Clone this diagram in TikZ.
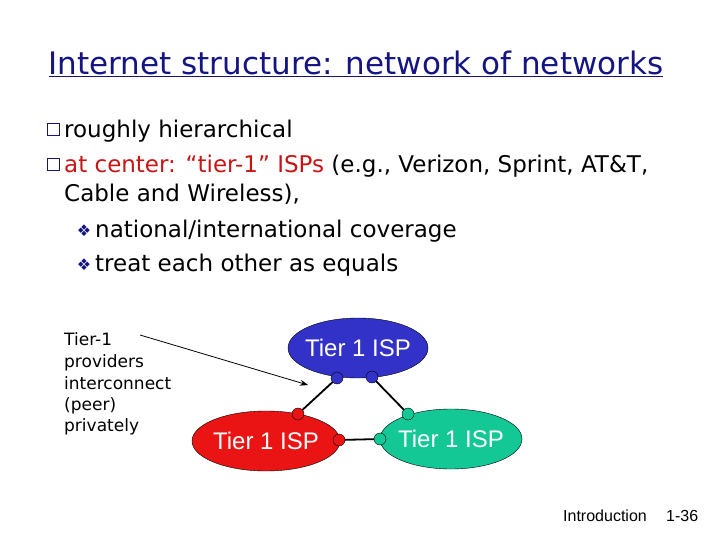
\documentclass[tikz,border=0pt]{standalone}
\usepackage{fontspec}
\setmainfont{DejaVu Sans}
\newfontfamily\uifont{Liberation Sans}
\usetikzlibrary{shapes.geometric,arrows.meta}
\definecolor{navy}{RGB}{20,20,130}
\definecolor{bred}{RGB}{200,20,20}
\definecolor{ispblue}{RGB}{50,50,200}
\definecolor{ispred}{RGB}{235,20,20}
\definecolor{ispgreen}{RGB}{20,200,150}
\tikzset{
 body/.style={anchor=base west,inner sep=0pt,font=\fontsize{23}{27}\selectfont},
 small/.style={anchor=base west,inner sep=0pt,font=\fontsize{17}{20}\selectfont},
 isp/.style={ellipse,draw=black,thin,inner sep=0pt,minimum height=60pt,
   label={[text=white,font=\uifont\fontsize{24}{28}\selectfont]center:Tier 1 ISP}},
 port/.style={circle,draw=black,thin,inner sep=0pt,minimum size=12pt},
 link/.style={line width=1.8pt},
 sq/.style={draw=navy,fill=white,line width=1pt,minimum size=12pt,inner sep=0pt},
 dia/.style={text=navy,inner sep=0pt,font=\fontsize{16}{18}\selectfont}
}
\begin{document}
\begin{tikzpicture}[x=1pt,y=-1pt]
\useasboundingbox (0,0) rectangle (720,540);
\node[inner sep=0pt,text=navy,font=\fontsize{31}{36}\selectfont] (title) at (356,64) {\underline{Internet structure: network of networks}};
\node[sq] (b1) at (53,130) {};
\node[body] (t1) at (64,138) {roughly hierarchical};
\node[sq] (b2) at (53,165) {};
\node[body] (t2) at (64,173) {\textcolor{bred}{at center: “tier-1” ISPs} (e.g., Verizon, Sprint, AT\&T,};
\node[body] (t3) at (64,202) {Cable and Wireless),};
\node[dia] (d1) at (84,231) {❖};
\node[body] (t4) at (95,237) {national/international coverage};
\node[dia] (d2) at (84,265) {❖};
\node[body] (t5) at (95,271) {treat each other as equals};
\node[small] (l1) at (64,345) {Tier-1};
\node[small] (l2) at (64,367) {providers};
\node[small] (l3) at (64,389) {interconnect};
\node[small] (l4) at (64,410) {(peer)};
\node[small] (l5) at (64,431) {privately};
\node[isp,fill=ispblue,minimum width=140pt] (A) at (358,348) {};
\node[isp,fill=ispred,minimum width=148pt] (B) at (266,441) {};
\node[isp,fill=ispgreen,minimum width=142pt] (C) at (451,439) {};
\coordinate (a1) at (337,378);
\coordinate (a2) at (372,377);
\coordinate (b1p) at (298,414);
\coordinate (b2p) at (339,440);
\coordinate (c1) at (408,414);
\coordinate (c2) at (380,439);
\draw[link] (a1) -- (b1p);
\draw[link] (a2) -- (c1);
\draw[link] (b2p) -- (c2);
\node[port,fill=ispblue] (pa1) at (a1) {};
\node[port,fill=ispblue] (pa2) at (a2) {};
\node[port,fill=ispred] (pb1) at (b1p) {};
\node[port,fill=ispred] (pb2) at (b2p) {};
\node[port,fill=ispgreen] (pc1) at (c1) {};
\node[port,fill=ispgreen] (pc2) at (c2) {};
\coordinate (s) at (140,335);
\coordinate (e) at (308,385);
\draw[line width=0.8pt,-{Stealth[length=8pt]}] (s) -- (e);
\node[anchor=base west,inner sep=0pt,font=\uifont\fontsize{16}{18}\selectfont] (f1) at (563,521) {Introduction};
\node[anchor=base west,inner sep=0pt,font=\uifont\fontsize{16}{18}\selectfont] (f2) at (666,521) {1-36};
\end{tikzpicture}
\end{document}
